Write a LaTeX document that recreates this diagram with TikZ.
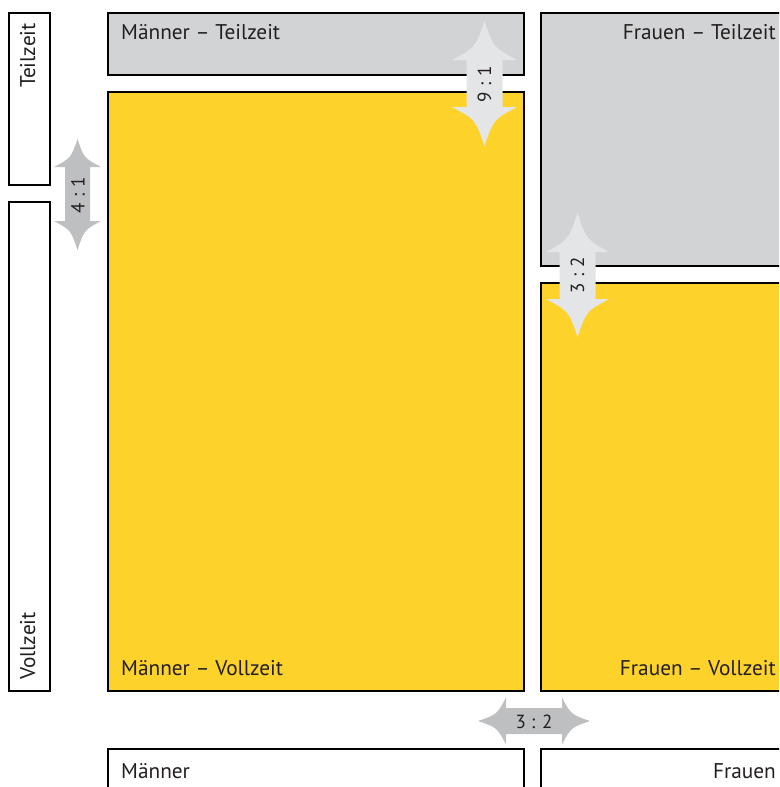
\documentclass[tikz,border=0pt]{standalone}
\usepackage{fontspec}
\setmainfont{PT Sans}
\definecolor{gelb}{HTML}{FDD22A}
\definecolor{grau}{HTML}{D1D3D4}
\definecolor{hellpfeil}{HTML}{E4E5E7}
\definecolor{mittelpfeil}{HTML}{BDBFC1}
\definecolor{tinte}{HTML}{231F20}
% vertical double arrow: #1 colour, #2 cx, #3 top tip, #4 top base, #5 bottom base, #6 bottom tip, #7 half shaft, #8 half head
\newcommand{\vdblarrow}[8]{%
  \fill[#1] (#2,#3)
    .. controls ({#2-0.28*#8},{#4-0.32*(#4-#3)}) .. ({#2-#8},#4) -- ({#2-#7},#4)
    -- ({#2-#7},#5) -- ({#2-#8},#5)
    .. controls ({#2-0.28*#8},{#5+0.32*(#6-#5)}) .. (#2,#6)
    .. controls ({#2+0.28*#8},{#5+0.32*(#6-#5)}) .. ({#2+#8},#5)
    -- ({#2+#7},#5) -- ({#2+#7},#4) -- ({#2+#8},#4)
    .. controls ({#2+0.28*#8},{#4-0.32*(#4-#3)}) .. cycle;}
% horizontal double arrow: #1 colour, #2 cy, #3 left tip, #4 left base, #5 right base, #6 right tip, #7 half shaft, #8 half head
\newcommand{\hdblarrow}[8]{%
  \fill[#1] (#3,#2)
    .. controls ({#4-0.32*(#4-#3)},{#2-0.28*#8}) .. (#4,{#2-#8}) -- (#4,{#2-#7})
    -- (#5,{#2-#7}) -- (#5,{#2-#8})
    .. controls ({#5+0.32*(#6-#5)},{#2-0.28*#8}) .. (#6,#2)
    .. controls ({#5+0.32*(#6-#5)},{#2+0.28*#8}) .. (#5,{#2+#8})
    -- (#5,{#2+#7}) -- (#4,{#2+#7}) -- (#4,{#2+#8})
    .. controls ({#4-0.32*(#4-#3)},{#2+0.28*#8}) .. cycle;}
\tikzset{
  box/.style={draw=black, line width=1.8pt},
  lbl/.style={font=\fontsize{21.3}{24}\selectfont, text=tinte, inner sep=0pt},
  ratio/.style={font=\fontsize{19}{22}\selectfont, text=tinte, inner sep=0pt},
}
\begin{document}
\begin{tikzpicture}[x=1pt,y=-1pt]
\useasboundingbox (0,0) rectangle (779,787);
\clip (0,0) rectangle (779,787);
% left category boxes
\draw[box, fill=white] (9,13) rectangle (50,185);
\draw[box, fill=white] (9,202) rectangle (50,691);
% main boxes
\draw[box, fill=grau] (108,13) rectangle (524,75);
\draw[box, fill=gelb] (108,92) rectangle (524,691);
\draw[box, fill=grau] (541,13) rectangle (800,266);
\draw[box, fill=gelb] (541,283) rectangle (800,691);
\draw[box, fill=white] (108,749) rectangle (524,800);
\draw[box, fill=white] (541,749) rectangle (800,800);
% texts
\node[lbl, anchor=base west] (mt) at (121,39) {Männer – Teilzeit};
\node[lbl, anchor=base east] (ft) at (776,39) {Frauen – Teilzeit};
\node[lbl, anchor=base west] (mv) at (121,675) {Männer – Vollzeit};
\node[lbl, anchor=base east] (fv) at (776,675) {Frauen – Vollzeit};
\node[lbl, anchor=base west] (m) at (121,778) {Männer};
\node[lbl, anchor=base east] (f) at (776,778) {Frauen};
\node[lbl, rotate=90, anchor=base east] (tz) at (35,23) {Teilzeit};
\node[lbl, rotate=90, anchor=base west] (vz) at (35,680) {Vollzeit};
% arrows
\vdblarrow{mittelpfeil}{77.5}{139}{167}{221}{250}{12.5}{23.5}
\vdblarrow{hellpfeil}{484.5}{21}{60}{107}{146}{18}{32.5}
\vdblarrow{hellpfeil}{577.5}{213}{252}{299}{337}{18}{31.5}
\hdblarrow{mittelpfeil}{721}{478}{506}{562}{590}{13}{23.5}
\node[ratio, rotate=90] (r41) at (78,195) {4 : 1};
\node[ratio, rotate=90] (r91) at (484.5,84) {9 : 1};
\node[ratio, rotate=90] (r32v) at (577.5,275) {3 : 2};
\node[ratio] (r32h) at (534,722) {3 : 2};
\end{tikzpicture}
\end{document}
